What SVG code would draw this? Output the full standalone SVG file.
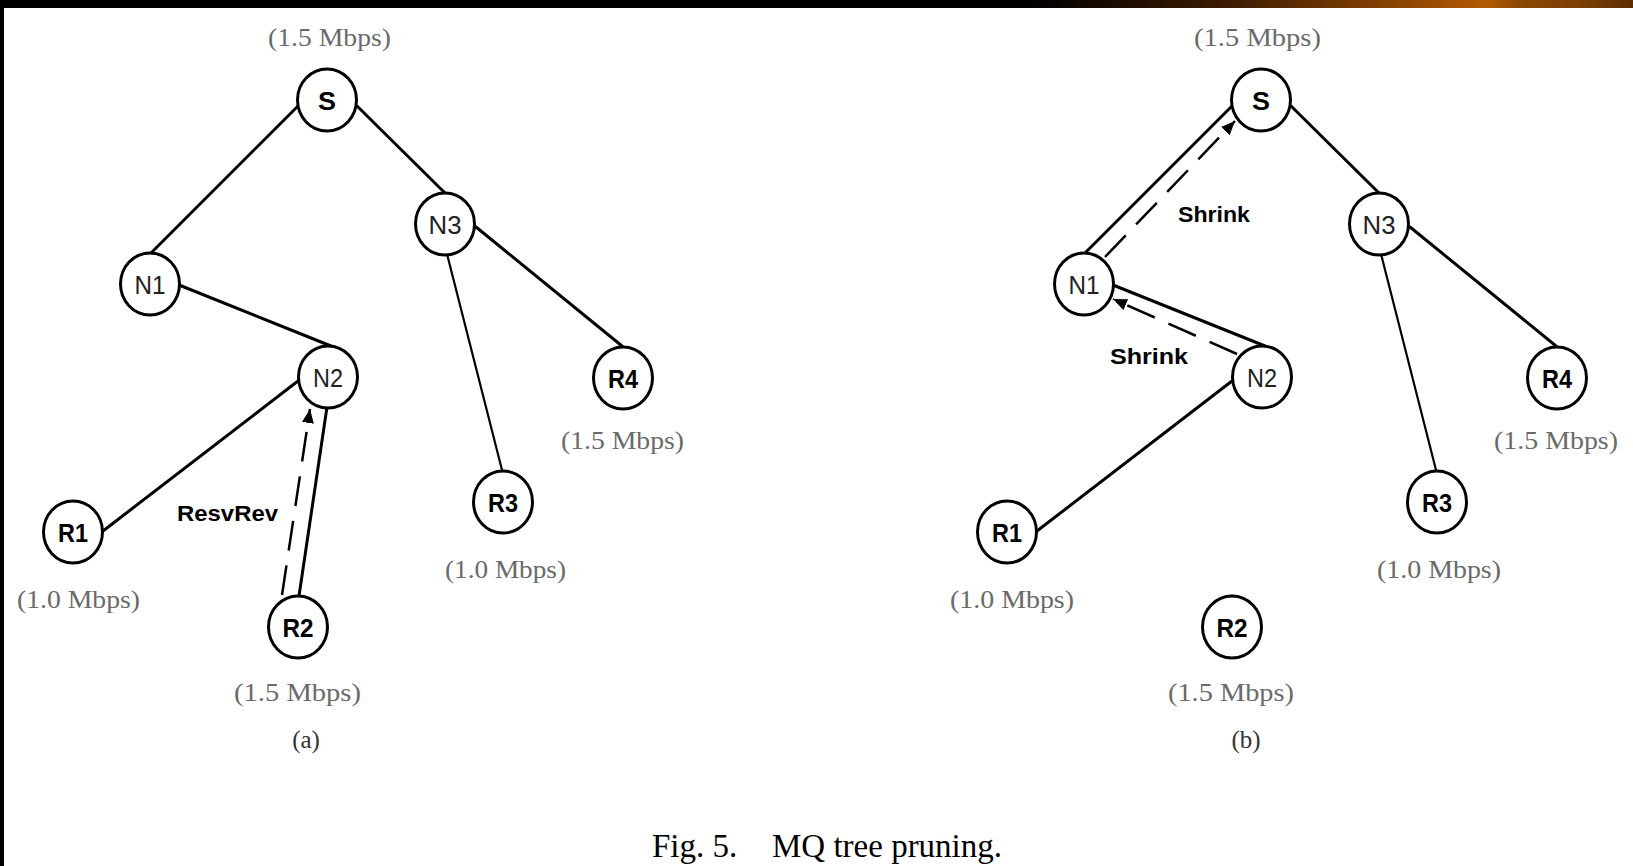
<svg xmlns="http://www.w3.org/2000/svg" width="1633" height="866" viewBox="0 0 1633 866">
<style>
.node ellipse{fill:#fff;stroke:#000;stroke-width:3}
.nl{font-family:"Liberation Sans",Arial,sans-serif;font-size:26px;text-anchor:middle;fill:#000}
.b{font-weight:bold}
.n{fill:#222}
.rate{font-family:"Liberation Serif","Times New Roman",serif;font-size:26px;fill:#6a6a6a;text-anchor:middle}
.sub{font-family:"Liberation Serif","Times New Roman",serif;font-size:25px;fill:#333;text-anchor:middle}
.cap{font-family:"Liberation Serif","Times New Roman",serif;font-size:33px;fill:#000}
.el{font-family:"Liberation Sans",Arial,sans-serif;font-weight:bold;font-size:22px;fill:#000}
.e{stroke:#000;stroke-width:3;fill:none;stroke-linecap:round}
.thin{stroke-width:2.2}
.d{stroke:#000;stroke-width:2.5;fill:none;stroke-dasharray:30 15}
</style>
<defs>
<linearGradient id="bar" x1="0" y1="0" x2="1633" y2="0" gradientUnits="userSpaceOnUse">
<stop offset="0" stop-color="#000"/>
<stop offset="0.63" stop-color="#000"/>
<stop offset="0.75" stop-color="#3a1a02"/>
<stop offset="0.91" stop-color="#b35a05"/>
<stop offset="0.93" stop-color="#8c4704"/>
<stop offset="0.97" stop-color="#7a3e05"/>
<stop offset="1" stop-color="#5a2c03"/>
</linearGradient>
<marker id="ah" markerUnits="userSpaceOnUse" markerWidth="14" markerHeight="12" refX="14" refY="6" orient="auto">
<path d="M0,0 L14,6 L0,12 z" fill="#000"/>
</marker>
</defs>
<rect x="0" y="0" width="1633" height="866" fill="#fff"/>
<rect x="0" y="0" width="1633" height="8" fill="url(#bar)"/>
<rect x="0" y="0" width="4" height="866" fill="#000"/>

<g id="connectors">
<line class="e" x1="298" y1="106" x2="152" y2="252"/>
<line class="e" x1="357" y1="106" x2="445" y2="193"/>
<line class="e" x1="179" y1="285" x2="331" y2="346"/>
<line class="e" x1="476" y1="227" x2="622" y2="346"/>
<line class="e thin" x1="447" y1="254" x2="502" y2="470"/>
<line class="e" x1="298" y1="381" x2="103" y2="531"/>
<line class="e" x1="327" y1="407" x2="299" y2="596"/>
<line class="d" x1="282" y1="595" x2="310" y2="409" marker-end="url(#ah)"/>

<line class="e" x1="1232" y1="106" x2="1086" y2="252"/>
<line class="e" x1="1291" y1="106" x2="1379" y2="193"/>
<line class="e" x1="1113" y1="285" x2="1265" y2="346"/>
<line class="e" x1="1410" y1="227" x2="1556" y2="346"/>
<line class="e thin" x1="1381" y1="254" x2="1436" y2="470"/>
<line class="e" x1="1232" y1="381" x2="1037" y2="531"/>
<line class="d" x1="1105" y1="257" x2="1235" y2="121" marker-end="url(#ah)"/>
<line class="d" x1="1237" y1="354" x2="1113" y2="299" marker-end="url(#ah)"/>
</g>

<g id="a-S" class="node"><ellipse cx="327" cy="100" rx="29.5" ry="31"/><text class="nl b" x="327" y="110" textLength="18" lengthAdjust="spacingAndGlyphs">S</text></g>
<g id="a-N1" class="node"><ellipse cx="150" cy="284" rx="29.5" ry="31"/><text class="nl n" x="150" y="294" textLength="31" lengthAdjust="spacingAndGlyphs">N1</text></g>
<g id="a-N3" class="node"><ellipse cx="445" cy="224" rx="29.5" ry="31"/><text class="nl n" x="445" y="234" textLength="33" lengthAdjust="spacingAndGlyphs">N3</text></g>
<g id="a-N2" class="node"><ellipse cx="328" cy="377" rx="29.5" ry="31"/><text class="nl n" x="328" y="387" textLength="30" lengthAdjust="spacingAndGlyphs">N2</text></g>
<g id="a-R4" class="node"><ellipse cx="623" cy="378" rx="29.5" ry="31"/><text class="nl b" x="623" y="388" textLength="30" lengthAdjust="spacingAndGlyphs">R4</text></g>
<g id="a-R1" class="node"><ellipse cx="73" cy="532" rx="29.5" ry="31"/><text class="nl b" x="73" y="542" textLength="30" lengthAdjust="spacingAndGlyphs">R1</text></g>
<g id="a-R3" class="node"><ellipse cx="503" cy="502" rx="29.5" ry="31"/><text class="nl b" x="503" y="512" textLength="30" lengthAdjust="spacingAndGlyphs">R3</text></g>
<g id="a-R2" class="node"><ellipse cx="298" cy="627" rx="29.5" ry="31"/><text class="nl b" x="298" y="637" textLength="31" lengthAdjust="spacingAndGlyphs">R2</text></g>

<g id="b-S" class="node"><ellipse cx="1261" cy="100" rx="29.5" ry="31"/><text class="nl b" x="1261" y="110" textLength="18" lengthAdjust="spacingAndGlyphs">S</text></g>
<g id="b-N1" class="node"><ellipse cx="1084" cy="284" rx="29.5" ry="31"/><text class="nl n" x="1084" y="294" textLength="31" lengthAdjust="spacingAndGlyphs">N1</text></g>
<g id="b-N3" class="node"><ellipse cx="1379" cy="224" rx="29.5" ry="31"/><text class="nl n" x="1379" y="234" textLength="33" lengthAdjust="spacingAndGlyphs">N3</text></g>
<g id="b-N2" class="node"><ellipse cx="1262" cy="377" rx="29.5" ry="31"/><text class="nl n" x="1262" y="387" textLength="30" lengthAdjust="spacingAndGlyphs">N2</text></g>
<g id="b-R4" class="node"><ellipse cx="1557" cy="378" rx="29.5" ry="31"/><text class="nl b" x="1557" y="388" textLength="30" lengthAdjust="spacingAndGlyphs">R4</text></g>
<g id="b-R1" class="node"><ellipse cx="1007" cy="532" rx="29.5" ry="31"/><text class="nl b" x="1007" y="542" textLength="30" lengthAdjust="spacingAndGlyphs">R1</text></g>
<g id="b-R3" class="node"><ellipse cx="1437" cy="502" rx="29.5" ry="31"/><text class="nl b" x="1437" y="512" textLength="30" lengthAdjust="spacingAndGlyphs">R3</text></g>
<g id="b-R2" class="node"><ellipse cx="1232" cy="627" rx="29.5" ry="31"/><text class="nl b" x="1232" y="637" textLength="31" lengthAdjust="spacingAndGlyphs">R2</text></g>

<g id="labels">
<text class="rate" x="329.5" y="46" textLength="123" lengthAdjust="spacingAndGlyphs">(1.5 Mbps)</text>
<text class="rate" x="622.5" y="449" textLength="123" lengthAdjust="spacingAndGlyphs">(1.5 Mbps)</text>
<text class="rate" x="505.5" y="578" textLength="121" lengthAdjust="spacingAndGlyphs">(1.0 Mbps)</text>
<text class="rate" x="78.5" y="608" textLength="123" lengthAdjust="spacingAndGlyphs">(1.0 Mbps)</text>
<text class="rate" x="297.5" y="701" textLength="127" lengthAdjust="spacingAndGlyphs">(1.5 Mbps)</text>
<text class="sub" x="306" y="748">(a)</text>
<text class="el" x="177" y="521" textLength="101" lengthAdjust="spacingAndGlyphs">ResvRev</text>

<text class="rate" x="1257.5" y="46" textLength="127" lengthAdjust="spacingAndGlyphs">(1.5 Mbps)</text>
<text class="rate" x="1556" y="449" textLength="124" lengthAdjust="spacingAndGlyphs">(1.5 Mbps)</text>
<text class="rate" x="1439" y="578" textLength="124" lengthAdjust="spacingAndGlyphs">(1.0 Mbps)</text>
<text class="rate" x="1012" y="608" textLength="124" lengthAdjust="spacingAndGlyphs">(1.0 Mbps)</text>
<text class="rate" x="1231" y="701" textLength="126" lengthAdjust="spacingAndGlyphs">(1.5 Mbps)</text>
<text class="sub" x="1246" y="748">(b)</text>
<text class="el" x="1178" y="222" textLength="72" lengthAdjust="spacingAndGlyphs">Shrink</text>
<text class="el" x="1110" y="364" textLength="78" lengthAdjust="spacingAndGlyphs">Shrink</text>

<text class="cap" x="652" y="857">Fig. 5.</text>
<text class="cap" x="772" y="857">MQ tree pruning.</text>
</g>
</svg>
